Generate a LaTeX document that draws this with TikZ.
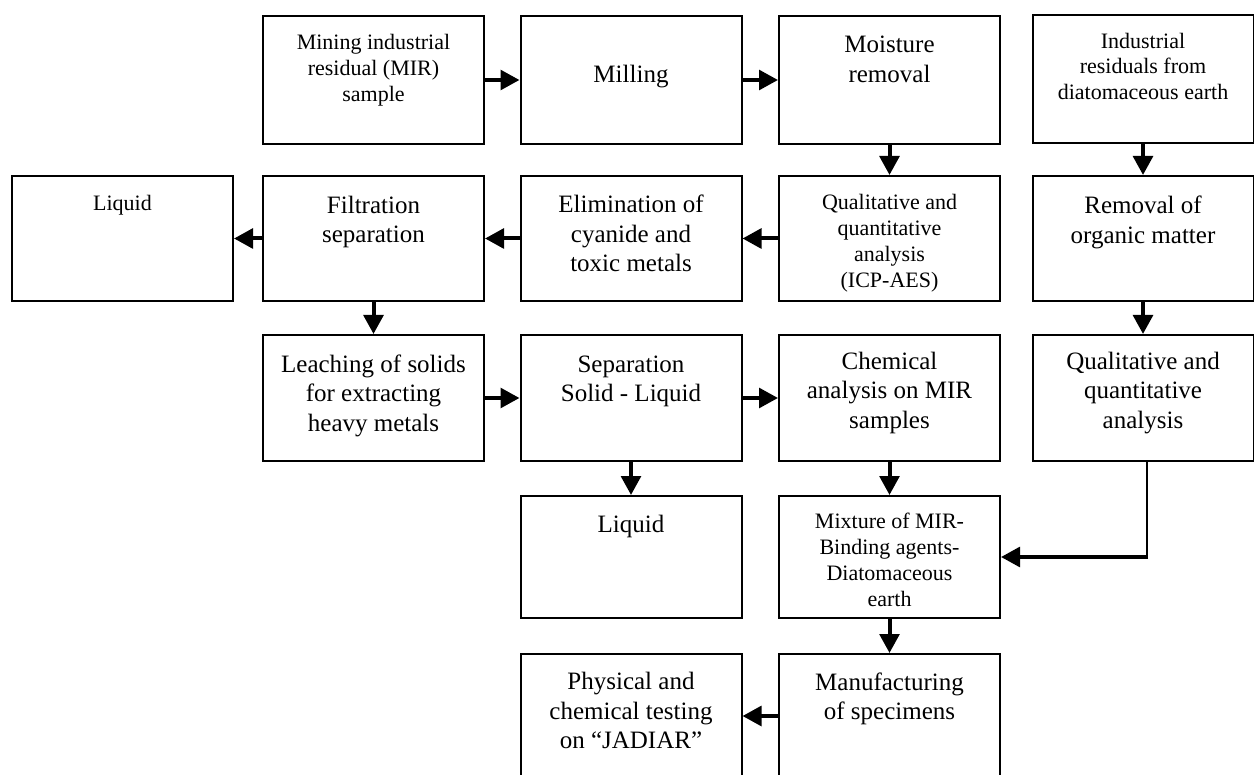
\documentclass[tikz,border=0pt]{standalone}
\usepackage{fontspec}
\setmainfont{Liberation Serif}
\usetikzlibrary{arrows.meta}
\begin{document}
\begin{tikzpicture}[x=0.5pt,y=-0.5pt,
  box/.style={draw, line width=1pt, rectangle, inner sep=0pt, minimum width=110.5pt},
  rA/.style={box, minimum height=64pt},
  rB/.style={box, minimum height=62.5pt},
  rC/.style={box, minimum height=63pt},
  rD/.style={box, minimum height=61pt},
  rE/.style={box, minimum height=62pt},
  lg/.style={font=\fontsize{12.5}{14.75}\selectfont, align=center, inner sep=0pt, anchor=base},
  sm/.style={font=\fontsize{11}{12.85}\selectfont, align=center, inner sep=0pt, anchor=base},
  arr/.style={line width=2pt, -{Triangle[length=9.5pt,width=9.8pt]}},
  thinline/.style={line width=1pt}]
\useasboundingbox (0,0) rectangle (1254,775);
\clip (0,0) rectangle (1254,775);
% row 1
\node[rA] (mir) at (373.5,80) {};
\node[rA] (mill) at (631,80) {};
\node[rA] (moist) at (889.5,80) {};
\node[rA] (ind) at (1143,79) {};
% row 2
\node[rB] (liq1) at (122.5,238.5) {};
\node[rB] (filt) at (373.5,238.5) {};
\node[rB] (elim) at (631,238.5) {};
\node[rB] (icp) at (889.5,238.5) {};
\node[rB] (org) at (1143,238.5) {};
% row 3
\node[rC] (leach) at (373.5,398) {};
\node[rC] (sep) at (631,398) {};
\node[rC] (chem) at (889.5,398) {};
\node[rC] (qual) at (1143,398) {};
% row 4
\node[rD] (liq2) at (631,557) {};
\node[rD] (mix) at (889.5,557) {};
% row 5
\node[rE] (phys) at (631,716) {};
\node[rE] (manu) at (889.5,716) {};
% texts (anchor = baseline of last line)
\node[sm] (tmir) at (373.5,101.4) {Mining industrial\\residual (MIR)\\sample};
\node[lg] (tmill) at (631,83) {Milling};
\node[lg] (tmoist) at (889.5,82.2) {Moisture\\removal};
\node[sm] (tind) at (1143,99.7) {Industrial\\residuals from\\diatomaceous earth};
\node[sm] (tliq1) at (122.5,210.7) {Liquid};
\node[lg] (tfilt) at (373.5,242.8) {Filtration\\separation};
\node[lg] (telim) at (631,272) {Elimination of\\cyanide and\\toxic metals};
\node[sm] (ticp) at (889.5,287.1) {Qualitative and\\quantitative\\analysis\\(ICP-AES)};
\node[lg] (torg) at (1143,243.5) {Removal of\\organic matter};
\node[lg] (tleach) at (373.5,431) {Leaching of solids\\for extracting\\heavy metals};
\node[lg] (tsep) at (631,401.5) {Separation\\Solid - Liquid};
\node[lg] (tchem) at (889.5,428.5) {Chemical\\analysis on MIR\\samples};
\node[lg] (tqual) at (1143,428.5) {Qualitative and\\quantitative\\analysis};
\node[lg] (tliq2) at (631,532.7) {Liquid};
\node[sm] (tmix) at (889.5,606) {Mixture of MIR-\\Binding agents-\\Diatomaceous\\earth};
\node[lg] (tphys) at (631,748.5) {Physical and\\chemical testing\\on “JADIAR”};
\node[lg] (tmanu) at (889.5,719.5) {Manufacturing\\of specimens};
% connectors
\draw[arr] (mir) -- (mill);
\draw[arr] (mill) -- (moist);
\draw[arr] (moist) -- (icp);
\draw[arr] (ind) -- (org);
\draw[arr] (icp) -- (elim);
\draw[arr] (elim) -- (filt);
\draw[arr] (filt) -- (liq1);
\draw[arr] (filt) -- (leach);
\draw[arr] (org) -- (qual);
\draw[arr] (leach) -- (sep);
\draw[arr] (sep) -- (chem);
\draw[arr] (sep) -- (liq2);
\draw[arr] (chem) -- (mix);
\coordinate (bend) at (1147,557);
\draw[thinline] ([xshift=2pt]qual.south) -- (bend);
\draw[arr] ([xshift=0.5pt]bend) -- (mix.east);
\draw[arr] (mix) -- (manu);
\draw[arr] (manu) -- (phys);
\end{tikzpicture}
\end{document}
